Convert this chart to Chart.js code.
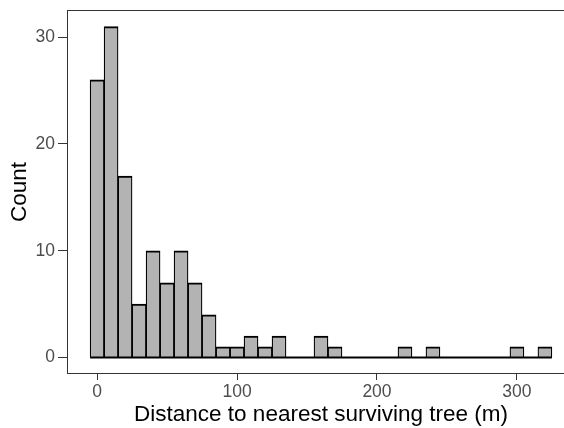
<!DOCTYPE html>
<html>
<head>
<meta charset="utf-8">
<script src="https://cdn.jsdelivr.net/npm/chart.js@4/dist/chart.umd.min.js"></script>
<style>
  html, body { margin: 0; padding: 0; background: #ffffff; overflow: hidden; width: 564px; height: 428px; }
  #wrap { position: relative; left: 0; top: 0; width: 564px; height: 428px; overflow: hidden; }
  canvas { display: block; }
</style>
</head>
<body>
<div id="wrap"><canvas id="c" width="580" height="428" style="width:580px;height:428px"></canvas></div>
<script>
// Histogram bins (centres, metres) and counts
const binCenters = [0, 10, 20, 30, 40, 50, 60, 70, 80, 90, 100, 110, 120, 130, 140, 150, 160, 170, 180, 190, 200, 210, 220, 230, 240, 250, 260, 270, 280, 290, 300, 310, 320];
const binCounts  = [26, 31, 17, 5, 10, 7, 10, 7, 4, 1, 1, 2, 1, 2, 0, 0, 2, 1, 0, 0, 0, 0, 1, 0, 1, 0, 0, 0, 0, 0, 1, 0, 1];
const binWidth = 10;
const xTickValues = [0, 100, 200, 300];
const yTickValues = [0, 10, 20, 30];
const xTitle = "Distance to nearest surviving tree (m)";
const yTitle = "Count";

const barPoints = binCenters.map((c, i) => ({ x: c, y: binCounts[i] }));
const baseline = [
  { x: binCenters[0] - binWidth / 2, y: 0 },
  { x: binCenters[binCenters.length - 1] + binWidth / 2, y: 0 }
];

// ggplot-like expansion (5%)
const xLo = binCenters[0] - binWidth / 2, xHi = binCenters[binCenters.length - 1] + binWidth / 2;
const xPad = (xHi - xLo) * 0.05;
const yMax = Math.max(...binCounts);
const yPad = yMax * 0.05;

const panelBorder = {
  id: 'panelBorder',
  afterDatasetsDraw(chart) {
    const { ctx, chartArea: a } = chart;
    ctx.save();
    ctx.strokeStyle = '#333333';
    ctx.lineWidth = 1;
    ctx.strokeRect(Math.round(a.left) + 0.5, Math.round(a.top) + 0.5,
                   Math.round(a.right - a.left) - 1, Math.round(a.bottom - a.top) - 1);
    ctx.restore();
  }
};

const FONT = "'Liberation Sans', Arial, sans-serif";

new Chart(document.getElementById('c'), {
  type: 'bar',
  data: {
    datasets: [
      {
        type: 'line',
        data: baseline,
        borderColor: '#000000',
        borderWidth: 2,
        pointRadius: 0,
        fill: false,
        order: 0
      },
      {
        type: 'bar',
        data: barPoints,
        backgroundColor: '#b3b3b3',
        borderColor: '#000000',
        borderWidth: { top: 2, left: 1.25, right: 1.25, bottom: 0 },
        borderSkipped: false,
        categoryPercentage: 1,
        barPercentage: 1,
        order: 1
      }
    ]
  },
  plugins: [panelBorder],
  options: {
    responsive: false,
    animation: false,
    events: [],
    devicePixelRatio: 1,
    layout: { padding: { top: 10, right: 5, left: 0, bottom: 0 } },
    plugins: { legend: { display: false }, tooltip: { enabled: false } },
    scales: {
      x: {
        type: 'linear',
        offset: false,
        min: xLo - xPad,
        max: xHi + xPad,
        afterBuildTicks: (s) => { s.ticks = xTickValues.map(v => ({ value: v })); },
        afterFit: (s) => { s.height = 54; s.paddingLeft = 0; s.paddingRight = 0; },
        grid: { display: true, offset: false, drawOnChartArea: false, drawTicks: true, tickLength: 6, tickColor: '#333333', tickWidth: 1 },
        border: { display: false },
        ticks: { color: '#4d4d4d', font: { family: FONT, size: 17.5 }, padding: 2, maxRotation: 0, autoSkip: false },
        title: { display: true, text: xTitle, color: '#000000', font: { family: FONT, size: 22.5 }, padding: { top: 0, bottom: 0 } }
      },
      y: {
        type: 'linear',
        min: -yPad,
        max: yMax + yPad,
        afterBuildTicks: (s) => { s.ticks = yTickValues.map(v => ({ value: v })); },
        afterFit: (s) => { s.width = 67; s.paddingTop = 0; s.paddingBottom = 0; },
        grid: { display: true, drawOnChartArea: false, drawTicks: true, tickLength: 9, tickColor: '#333333', tickWidth: 1 },
        border: { display: false },
        ticks: { color: '#4d4d4d', font: { family: FONT, size: 17.5 }, padding: 3 },
        title: { display: true, text: yTitle, color: '#000000', font: { family: FONT, size: 22.5 }, padding: { top: 6, bottom: 0 } }
      }
    }
  }
});
</script>
</body>
</html>
